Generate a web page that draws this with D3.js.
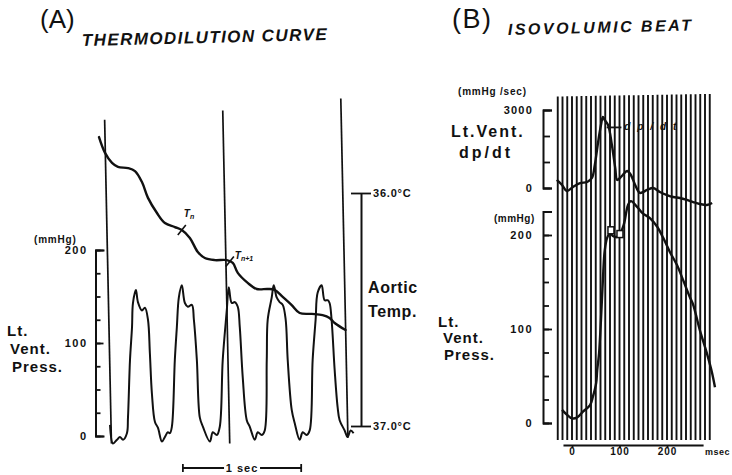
<!DOCTYPE html>
<html>
<head>
<meta charset="utf-8">
<script src="https://cdn.jsdelivr.net/npm/d3@7"></script>
<style>
  body { margin: 0; background: #fff; }
  svg { display: block; }
  text { font-family: "Liberation Sans", Arial, sans-serif; fill: #111; }
</style>
</head>
<body>
<script>
// ---- panel A: thermodilution curve (time in ms from first 1-sec marker) ----
const pressTimeA = [17,42,76,101,127,160,169,186,203,211,236,253,287,312,338,354,371,397,422,456,
  481,506,523,540,565,582,599,624,650,675,709,726,751,776,802,861,886,920,945,970,
  1004,1021,1046,1072,1097,1114,1139,1173,1198,1241,1266,1300,1325,1342,1350,1384,1401,1426,1451,1477,
  1502,1519,1553,1578,1620,1646,1679,1705,1730,1755,1772,1806,1831,1857,1873,1890,1916,1941,1958,2000,
  2025,2051,2076];
const pressValA = [12,-8,-4,-1,-4,3,20,82,117,143,157,144,135,138,125,89,46,15,9,-6,
  -1,4,3,10,82,117,149,162,143,139,141,125,82,20,10,-6,4,1,10,82,
  135,160,143,144,139,117,63,17,10,-4,4,1,6,82,125,149,162,149,144,141,
  125,82,28,14,-4,4,1,6,82,125,154,162,146,146,143,125,71,31,17,6,
  -1,6,3];
const tempTimeA = [-76,-25,34,84,169,228,287,338,414,481,565,624,692,759,819,903,1004,1055,1097,1181,
  1257,1350,1409,1477,1553,1620,1722,1814,1873,1916,2008];
const tempValA = [35.76,35.828,35.871,35.888,35.893,35.906,35.953,36.021,36.086,36.129,36.146,36.159,36.193,36.253,36.279,36.288,36.288,36.30,36.343,36.386,
  36.412,36.412,36.416,36.446,36.481,36.515,36.519,36.524,36.536,36.558,36.588];
const markerTimesA = [0, 1000, 2000];
const markerTopA = [340, 350, 363];      // how far up each marker reaches (mmHg units)
const markerBottomA = [-8, -8, -2];
const sampleTimesA = [624, 1030];        // T n, T n+1
const sampleSubA = ["n", "n+1"];
const pressTicksA = [0, 100, 200];
const tempTicksA = [36, 37];
const secBarStartA = 633;

// ---- panel B: isovolumic beat (time in ms) ----
const dpTimeB = [-32,-21,-11,2,17,32,42,48,55,61,65,69,76,84,91,95,101,107,116,124,
  133,143,158,171,185,200,213,227,242,255,269,284,295];
const dpValB = [310,115,-115,40,190,230,385,885,1770,2420,2730,2615,2420,1655,770,310,385,500,655,500,
  115,-190,-75,0,-155,-270,-345,-385,-460,-540,-615,-655,-575];
const pressTimeB = [-21,-11,0,11,23,38,44,51,53,57,59,61,65,69,74,80,86,95,101,109,
  118,124,137,149,164,179,192,206,221,234,248,255,269,284,295,301];
const pressValB = [14,9,5,6,12,19,28,43,56,74,91,110,152,184,197,202,199,198,201,211,
  232,236,230,223,218,209,197,182,168,152,134,126,99,74,53,38];
const isoMarkTimes = [82, 101];
const isoMarkPress = [205, 201];
const dpTicksB = [0, 3000];
const pressTicksB = [0, 100, 200];
const msTicksB = [0, 100, 200];

const width = 732, height = 475;
const svg = d3.select("body").append("svg")
  .attr("width", width)
  .attr("height", height);

// scales
const xA = d3.scaleLinear().domain([0, 1000]).range([108, 226.3]);
const yPA = d3.scaleLinear().domain([0, 200]).range([436, 250]);
const yTA = d3.scaleLinear().domain([36, 37]).range([193, 426]);

const xB = d3.scaleLinear().domain([0, 100]).range([572, 619.5]);
const yDB = d3.scaleLinear().domain([0, 3000]).range([188, 110]);
const yPB = d3.scaleLinear().domain([0, 225]).range([423, 211.5]);

const smooth = d3.curveCatmullRom.alpha(0.5);

function styleAxis(g, fs, ls) {
  g.attr("font-family", null).attr("font-size", null);
  g.selectAll(".domain").attr("stroke", "#111").attr("stroke-width", 2);
  g.selectAll(".tick line").attr("stroke", "#111").attr("stroke-width", 1.8);
  g.selectAll(".tick text")
    .attr("fill", "#111")
    .attr("font-weight", "bold")
    .attr("font-size", fs)
    .attr("letter-spacing", ls);
}

/* ============ PANEL A ============ */

svg.append("text").attr("x", 40).attr("y", 28).attr("font-size", 26).text("(A)");
svg.append("text")
  .attr("x", 82).attr("y", 46)
  .attr("transform", "rotate(-1.4 82 46)")
  .attr("font-size", 17).attr("font-weight", "bold").attr("font-style", "italic")
  .attr("textLength", 245).attr("lengthAdjust", "spacing")
  .text("THERMODILUTION CURVE");

// pressure axis (left)
let gPA = svg.append("g").attr("transform", "translate(95.5,0)");
gPA.call(d3.axisLeft(yPA).tickValues(d3.range(0, 201, 25)).tickSize(-5).tickSizeOuter(-9).tickFormat(""));
styleAxis(gPA, 11, 1);
let gPAl = svg.append("g").attr("transform", "translate(95.5,0)");
gPAl.call(d3.axisLeft(yPA).tickValues(pressTicksA).tickSize(-8).tickPadding(8));
gPAl.select(".domain").remove();
styleAxis(gPAl, 11, 1.5);

svg.append("text").attr("x", 34).attr("y", 243)
  .attr("font-size", 10).attr("font-weight", "bold").attr("letter-spacing", 0.8)
  .text("(mmHg)");
[["Lt.", 7, 336], ["Vent.", 10, 354], ["Press.", 12, 372]].forEach(d => {
  svg.append("text").attr("x", d[1]).attr("y", d[2])
    .attr("font-size", 15).attr("font-weight", "bold").attr("letter-spacing", 1)
    .text(d[0]);
});

// temperature axis (right, colder upward)
let gTA = svg.append("g").attr("transform", "translate(361,0)");
gTA.call(d3.axisRight(yTA).tickValues(tempTicksA).tickSize(10).tickSizeOuter(0).tickPadding(2)
  .tickFormat(d => d.toFixed(1) + "°C"));
styleAxis(gTA, 11, 0.8);
gTA.selectAll(".tick line").attr("x1", -10);

[["Aortic", 368, 293], ["Temp.", 368, 317]].forEach(d => {
  svg.append("text").attr("x", d[1]).attr("y", d[2])
    .attr("font-size", 16).attr("font-weight", "bold").attr("letter-spacing", 0.6)
    .text(d[0]);
});

// 1-sec time markers of the recorder (slightly skewed like the trace)
svg.append("g")
  .attr("transform", "translate(0,280) skewX(1.2) translate(0,-280)")
  .selectAll("line")
  .data(markerTimesA)
  .join("line")
  .attr("x1", d => xA(d)).attr("x2", d => xA(d))
  .attr("y1", (d, i) => yPA(markerTopA[i]))
  .attr("y2", (d, i) => yPA(markerBottomA[i]))
  .attr("stroke", "#111").attr("stroke-width", 1.7);

// temperature curve
const tempData = tempTimeA.map((t, i) => ({t: t, v: tempValA[i]}));
const tempLine = d3.line().x(d => xA(d.t)).y(d => yTA(d.v)).curve(smooth);
svg.append("path")
  .datum(tempData)
  .attr("fill", "none").attr("stroke", "#111").attr("stroke-width", 2.4)
  .attr("stroke-linejoin", "round").attr("stroke-linecap", "round")
  .attr("d", tempLine);

// sampling points T n and T n+1
const tempAt = t => {
  const i = d3.bisector(d => d.t).left(tempData, t);
  const a = tempData[i - 1], b = tempData[i];
  return a.v + (b.v - a.v) * (t - a.t) / (b.t - a.t);
};
sampleTimesA.forEach((t, i) => {
  const x = xA(t), y = yTA(tempAt(t));
  svg.append("line")
    .attr("x1", x - 4).attr("y1", y + 5).attr("x2", x + 4).attr("y2", y - 5)
    .attr("stroke", "#111").attr("stroke-width", 1.6);
  const lab = svg.append("text")
    .attr("x", x + (i === 0 ? 2 : 5)).attr("y", y - (i === 0 ? 13 : 3))
    .attr("font-size", 10).attr("font-weight", "bold").attr("font-style", "italic")
    .text("T");
  lab.append("tspan").attr("font-size", 7).attr("dy", 2).text(sampleSubA[i]);
});

// LV pressure trace
const pressDataA = pressTimeA.map((t, i) => ({t: t, v: pressValA[i]}));
svg.append("path")
  .datum(pressDataA)
  .attr("fill", "none").attr("stroke", "#111").attr("stroke-width", 2)
  .attr("stroke-linejoin", "round")
  .attr("d", d3.line().x(d => xA(d.t)).y(d => yPA(d.v)).curve(smooth));

// 1 sec scale bar
const sb0 = xA(secBarStartA), sb1 = xA(secBarStartA + 1000), sbY = 468;
const sbMid = (sb0 + sb1) / 2;
svg.append("line").attr("x1", sb0).attr("x2", sbMid - 18).attr("y1", sbY).attr("y2", sbY)
  .attr("stroke", "#111").attr("stroke-width", 1.8);
svg.append("line").attr("x1", sbMid + 18).attr("x2", sb1).attr("y1", sbY).attr("y2", sbY)
  .attr("stroke", "#111").attr("stroke-width", 1.8);
[sb0, sb1].forEach(x => {
  svg.append("line").attr("x1", x).attr("x2", x).attr("y1", sbY - 4).attr("y2", sbY + 4)
    .attr("stroke", "#111").attr("stroke-width", 1.8);
});
svg.append("text").attr("x", sbMid).attr("y", sbY + 4)
  .attr("text-anchor", "middle").attr("font-size", 11).attr("font-weight", "bold")
  .attr("letter-spacing", 1).text("1 sec");

/* ============ PANEL B ============ */

svg.append("text").attr("x", 452).attr("y", 28).attr("font-size", 27).attr("letter-spacing", 1.5).text("(B)");
svg.append("text")
  .attr("x", 508).attr("y", 35)
  .attr("transform", "rotate(-1.4 508 35)")
  .attr("font-size", 16).attr("font-weight", "bold").attr("font-style", "italic")
  .attr("textLength", 183).attr("lengthAdjust", "spacing")
  .text("ISOVOLUMIC BEAT");

// 10 ms time lines of the recording paper
svg.append("g")
  .selectAll("line")
  .data(d3.range(-30, 291, 10))
  .join("line")
  .attr("x1", d => xB(d)).attr("x2", d => xB(d))
  .attr("y1", d => yDB(3530 + d * 0.3))
  .attr("y2", yPB(-18))
  .attr("stroke", "#111").attr("stroke-width", 1.9);

// dp/dt axis
let gDB = svg.append("g").attr("transform", "translate(543,0)");
gDB.call(d3.axisLeft(yDB).tickValues([0, 1000, 2000, 3000]).tickSize(-7).tickSizeOuter(-9).tickFormat(""));
styleAxis(gDB, 11, 1);
let gDBl = svg.append("g").attr("transform", "translate(543,0)");
gDBl.call(d3.axisLeft(yDB).tickValues(dpTicksB).tickSize(-9).tickPadding(10).tickFormat(d3.format("d")));
gDBl.select(".domain").remove();
styleAxis(gDBl, 11, 1.2);

svg.append("text").attr("x", 458).attr("y", 95)
  .attr("font-size", 10).attr("font-weight", "bold").attr("letter-spacing", 0.8)
  .text("(mmHg /sec)");
svg.append("text").attr("x", 451).attr("y", 137)
  .attr("font-size", 16).attr("font-weight", "bold").attr("letter-spacing", 2)
  .text("Lt.Vent.");
svg.append("text").attr("x", 459).attr("y", 158)
  .attr("font-size", 16).attr("font-weight", "bold").attr("letter-spacing", 3)
  .text("dp/dt");

// pressure axis B
let gPB = svg.append("g").attr("transform", "translate(543,0)");
gPB.call(d3.axisLeft(yPB).tickValues(d3.range(0, 226, 25)).tickSize(-6).tickSizeOuter(-9).tickFormat(""));
styleAxis(gPB, 11, 1);
let gPBl = svg.append("g").attr("transform", "translate(543,0)");
gPBl.call(d3.axisLeft(yPB).tickValues(pressTicksB).tickSize(-9).tickPadding(10));
gPBl.select(".domain").remove();
styleAxis(gPBl, 11, 1.5);

svg.append("text").attr("x", 494).attr("y", 222)
  .attr("font-size", 10).attr("font-weight", "bold").attr("letter-spacing", 0.5)
  .text("(mmHg)");
[["Lt.", 438, 327], ["Vent.", 443, 343], ["Press.", 444, 360]].forEach(d => {
  svg.append("text").attr("x", d[1]).attr("y", d[2])
    .attr("font-size", 15).attr("font-weight", "bold").attr("letter-spacing", 1)
    .text(d[0]);
});

// time axis B
const xBaxis = xB.copy().domain([-19, 276]).range([xB(-19), xB(276)]);
let gXB = svg.append("g").attr("transform", "translate(0,445)");
gXB.call(d3.axisBottom(xBaxis).tickValues(msTicksB).tickSize(3).tickSizeOuter(0).tickPadding(0));
styleAxis(gXB, 10, 1);
svg.append("text").attr("x", 705).attr("y", 455)
  .attr("font-size", 9).attr("font-weight", "bold").attr("letter-spacing", 0.5)
  .text("msec");

// dp/dt trace
const dpData = dpTimeB.map((t, i) => ({t: t, v: dpValB[i]}));
svg.append("path")
  .datum(dpData)
  .attr("fill", "none").attr("stroke", "#111").attr("stroke-width", 2.4)
  .attr("stroke-linejoin", "round")
  .attr("d", d3.line().x(d => xB(d.t)).y(d => yDB(d.v)).curve(smooth));

svg.append("line")
  .attr("x1", xB(73)).attr("x2", xB(104)).attr("y1", yDB(2330)).attr("y2", yDB(2330))
  .attr("stroke", "#111").attr("stroke-width", 1.8);
svg.append("text")
  .attr("x", xB(110)).attr("y", yDB(2220))
  .attr("font-size", 10).attr("font-weight", "bold").attr("font-style", "italic")
  .attr("textLength", 52).attr("lengthAdjust", "spacing")
  .text("dp/dt");

// LV pressure trace B
const pressDataB = pressTimeB.map((t, i) => ({t: t, v: pressValB[i]}));
svg.append("path")
  .datum(pressDataB)
  .attr("fill", "none").attr("stroke", "#111").attr("stroke-width", 2.4)
  .attr("stroke-linejoin", "round")
  .attr("d", d3.line().x(d => xB(d.t)).y(d => yPB(d.v)).curve(smooth));

svg.selectAll("rect.iso")
  .data(isoMarkTimes)
  .join("rect")
  .attr("class", "iso")
  .attr("x", d => xB(d) - 3).attr("y", (d, i) => yPB(isoMarkPress[i]) - 3.5)
  .attr("width", 6).attr("height", 7)
  .attr("fill", "#fff").attr("stroke", "#111").attr("stroke-width", 1.5);
</script>
</body>
</html>
